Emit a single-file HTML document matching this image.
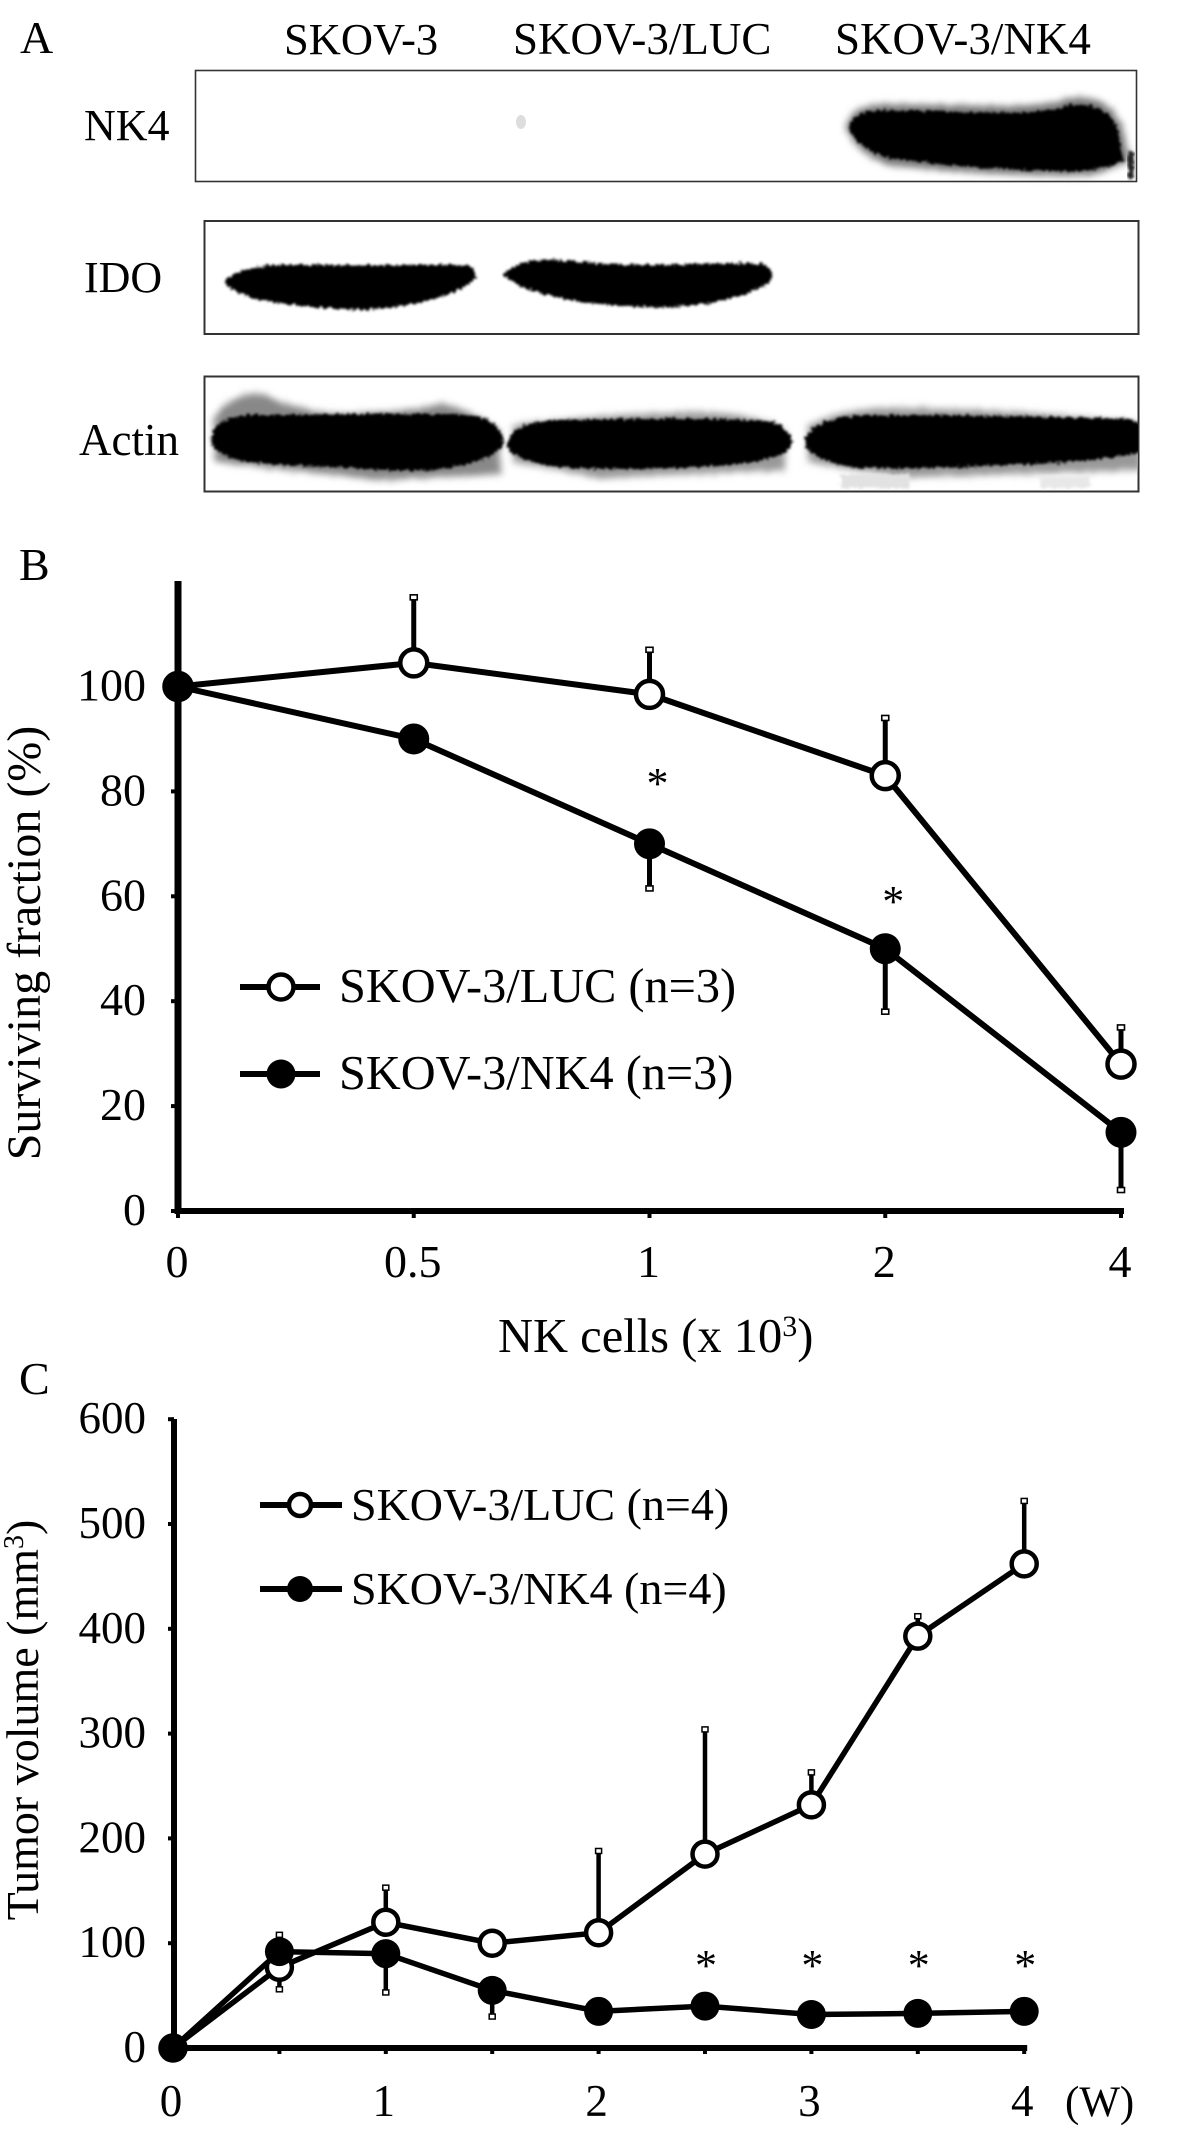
<!DOCTYPE html>
<html lang="en">
<head>
<meta charset="utf-8">
<title>NK4 figure</title>
<style>
html,body{margin:0;padding:0;background:#fff;}
svg{display:block;}
text{font-family:"Liberation Serif",serif;fill:#000;}
</style>
</head>
<body>
<svg id="fig" xmlns="http://www.w3.org/2000/svg" width="1181" height="2133" viewBox="0 0 1181 2133">
<defs>
<filter id="b2" x="-10%" y="-40%" width="120%" height="180%">
<feTurbulence type="fractalNoise" baseFrequency="0.3" numOctaves="2" seed="4" result="n"/>
<feDisplacementMap in="SourceGraphic" in2="n" scale="7" xChannelSelector="R" yChannelSelector="G"/>
<feGaussianBlur stdDeviation="1.4"/>
</filter>
<filter id="b5" x="-15%" y="-60%" width="130%" height="220%">
<feTurbulence type="fractalNoise" baseFrequency="0.35" numOctaves="2" seed="9" result="n"/>
<feDisplacementMap in="SourceGraphic" in2="n" scale="12" xChannelSelector="R" yChannelSelector="G"/>
<feGaussianBlur stdDeviation="3.5"/>
</filter>
</defs>
<rect width="1181" height="2133" fill="#fff"/>

<g>
<text x="20" y="53" font-size="46">A</text>
<text x="284" y="54" font-size="44.5">SKOV-3</text>
<text x="513" y="54" font-size="45">SKOV-3/LUC</text>
<text x="835" y="54" font-size="45">SKOV-3/NK4</text>
<text x="84" y="140" font-size="44">NK4</text>
<text x="84" y="292" font-size="44">IDO</text>
<text x="79" y="455" font-size="45">Actin</text>

<g>
<rect x="195.5" y="70.5" width="941" height="111" fill="#fff" stroke="#333" stroke-width="1.6"/>
<ellipse cx="521" cy="122" rx="5" ry="7" fill="#ddd"/>
<path d="M846,128 Q850,106 880,104 L1000,106 Q1050,106 1070,98 Q1108,94 1122,125 L1130,160 Q1100,178 1060,176 Q980,174 940,170 L890,166 Q856,154 846,128 Z" fill="#777" filter="url(#b5)"/>
<path d="M850,128 Q854,112 880,111 L1000,114 Q1050,114 1070,106 Q1104,103 1116,127 L1122,160 Q1100,172 1060,170 Q980,168 940,163 L890,157 Q860,150 850,128 Z" fill="#000" stroke="#000" stroke-width="2" filter="url(#b2)"/>
<rect x="1128" y="152" width="6" height="26" fill="#222" filter="url(#b2)"/>
</g>

<g>
<rect x="204.5" y="221" width="934" height="113" fill="#fff" stroke="#333" stroke-width="2"/>
<path d="M225,281 Q250,263 300,266 L465,266 Q476,267 474,278 Q450,302 365,309 Q300,307 260,299 Q228,290 225,281 Z" fill="#000" stroke="#000" stroke-width="2" filter="url(#b2)"/>
<path d="M505,275 Q520,258 560,261 Q620,268 700,265 L760,264 Q773,268 771,280 Q740,302 670,306 Q600,306 560,297 Q515,287 505,275 Z" fill="#000" stroke="#000" stroke-width="2" filter="url(#b2)"/>
</g>

<g>
<rect x="204.5" y="376.5" width="934" height="115" fill="#fff" stroke="#333" stroke-width="2"/>
<clipPath id="actinClip"><rect x="205" y="378" width="933" height="113"/></clipPath>
<g clip-path="url(#actinClip)">
<path d="M214,420 Q230,390 265,394 Q285,408 340,414 Q420,412 440,403 Q470,410 500,430 L500,474 L380,480 L215,462 Z" fill="#888" filter="url(#b5)"/>
<path d="M513,425 Q600,414 700,412 Q760,414 785,430 L785,470 L600,478 L513,462 Z" fill="#999" filter="url(#b5)"/>
<path d="M808,425 Q850,406 900,408 Q1000,408 1142,423 L1142,470 L900,478 L808,462 Z" fill="#999" filter="url(#b5)"/>
<path d="M212,440 Q214,418 250,416 Q400,414 470,416 Q499,420 503,442 Q498,460 440,468 Q400,472 350,466 Q270,466 235,458 Q214,452 212,440 Z" fill="#000" stroke="#000" stroke-width="2" filter="url(#b2)"/>
<path d="M508,445 Q512,422 560,421 Q700,418 770,422 Q791,430 791,444 Q785,462 700,466 Q620,470 560,466 Q512,460 508,445 Z" fill="#000" stroke="#000" stroke-width="2" filter="url(#b2)"/>
<path d="M805,442 Q812,420 860,416 Q1000,416 1130,420 L1145,428 L1145,450 Q1100,462 1000,464 Q900,470 850,466 Q810,458 805,442 Z" fill="#000" stroke="#000" stroke-width="2" filter="url(#b2)"/>
<rect x="840" y="474" width="70" height="14" fill="#e2e2e2" filter="url(#b2)"/>
<rect x="1040" y="476" width="50" height="12" fill="#e8e8e8" filter="url(#b2)"/>
</g>
</g>
</g>

<g id="panelB"></g>
<g id="panelC"></g>
</svg>

<script>
// Panel B data
const bCategories = ["0", "0.5", "1", "2", "4"];
const bYTicks = [0, 20, 40, 60, 80, 100];
const bLuc = [100, 104.5, 98.5, 83, 28];
const bNk4 = [100, 90, 70, 50, 15];
const bLucErrEnd = [null, 117, 107, 94, 35];
const bNk4ErrEnd = [null, null, 61.5, 38, 4];
const bStarIndex = [2, 3];
const bStarValue = [82, 59.5];

// Panel C data
const cWeeks = [0, 0.5, 1, 1.5, 2, 2.5, 3, 3.5, 4];
const cXLabels = [0, 1, 2, 3, 4];
const cYTicks = [0, 100, 200, 300, 400, 500, 600];
const cLuc = [0, 77, 120, 100, 110, 185, 232, 393, 462];
const cNk4 = [0, 92, 90, 55, 35, 40, 32, 33, 35];
const cLucErrEnd = [null, 56, 153, null, 188, 304, 263, 412, 522];
const cNk4ErrEnd = [null, 108, 53, 30, null, null, null, null, null];
const cStarWeeks = [2.5, 3, 3.5, 4];
const cStarValue = [80, 80, 80, 80];

const NS = 'http://www.w3.org/2000/svg';
function mk(tag, attrs, parent, txt) {
  const e = document.createElementNS(NS, tag);
  for (const k in attrs) e.setAttribute(k, attrs[k]);
  if (txt !== undefined) e.textContent = txt;
  parent.appendChild(e);
  return e;
}

/* ---------- Panel B ---------- */
const gB = document.getElementById('panelB');
const bx = i => 178 + i * 235.75;
const by = v => 1211 - v * 5.245;

let lb = mk('text', {x: 19, y: 580, 'font-size': 46}, gB, 'B');



let ax = mk('line', {x1: 178, y1: 581, x2: 178, y2: 1214, stroke: '#000', 'stroke-width': 7}, gB);


ax = mk('line', {x1: 175, y1: 1211, x2: bx(4) + 3, y2: 1211, stroke: '#000', 'stroke-width': 6}, gB);



bYTicks.forEach(v => {
  const t = mk('line', {x1: 171, y1: by(v), x2: 178, y2: by(v), stroke: '#000', 'stroke-width': 4}, gB);
  
  
  const l = mk('text', {x: 146, y: by(v) + 14, 'font-size': 46, 'text-anchor': 'end'}, gB, String(v));
  
  
});
bCategories.forEach((c, i) => {
  const t = mk('line', {x1: bx(i), y1: 1211, x2: bx(i), y2: 1218, stroke: '#000', 'stroke-width': 4}, gB);
  
  
  const l = mk('text', {x: bx(i) - 1, y: 1277, 'font-size': 46, 'text-anchor': 'middle'}, gB, c);
  
  
});

let xt = mk('text', {x: 498, y: 1352, 'font-size': 48.5}, gB);


mk('tspan', {}, xt, 'NK cells (x 10');
mk('tspan', {dy: -16, 'font-size': 30}, xt, '3');
mk('tspan', {dy: 16}, xt, ')');

let yt = mk('text', {x: 0, y: 0, 'font-size': 48, 'text-anchor': 'middle', transform: 'translate(40 943) rotate(-90)'}, gB, 'Surviving fraction (%)');



function drawB(vals, errs, filled, name) {
  errs.forEach((e, i) => {
    if (e === null) return;
    const l = mk('line', {x1: bx(i), y1: by(vals[i]), x2: bx(i), y2: by(e), stroke: '#000', 'stroke-width': 5}, gB);
    
    
    const c = mk('rect', {x: bx(i) - 3.5, y: by(e) - 2.5, width: 7, height: 5, fill: '#fff', stroke: '#000', 'stroke-width': 1.6}, gB);
    
    
  });
  const p = mk('polyline', {points: vals.map((v, i) => bx(i) + ',' + by(v)).join(' '), fill: 'none', stroke: '#000', 'stroke-width': 6}, gB);
  
  
  vals.forEach((v, i) => {
    const m = mk('circle', {cx: bx(i), cy: by(v), r: filled ? 15.5 : 13.5, fill: filled ? '#000' : '#fff', stroke: '#000', 'stroke-width': filled ? 0 : 4.5}, gB);
    
    
  });
}
drawB(bLuc, bLucErrEnd, false, 'b-skov3-luc');
drawB(bNk4, bNk4ErrEnd, true, 'b-skov3-nk4');

bStarIndex.forEach((idx, k) => {
  const s = mk('text', {x: bx(idx) + 8, y: by(bStarValue[k]) + 17, 'font-size': 44, 'text-anchor': 'middle'}, gB, '*');
  
  
});

function legendRow(g, x1, x2, cx, y, r, sw, filled, tx, fs, label, name) {
  const row = mk('g', {}, g);
  
  
  const l = mk('line', {x1: x1, y1: y, x2: x2, y2: y, stroke: '#000', 'stroke-width': sw}, row);
  
  
  const c = mk('circle', {cx: cx, cy: y, r: filled ? r + 2 : r, fill: filled ? '#000' : '#fff', stroke: '#000', 'stroke-width': filled ? 0 : 4.5}, row);
  
  
  const t = mk('text', {x: tx, y: y + 15, 'font-size': fs}, row, label);
  
  
}
legendRow(gB, 240, 320, 281, 987, 12.5, 6, false, 339, 48.3, 'SKOV-3/LUC (n=3)', 'b-legend-luc');
legendRow(gB, 240, 320, 281, 1074, 12.5, 6, true, 339, 48.3, 'SKOV-3/NK4 (n=3)', 'b-legend-nk4');

/* ---------- Panel C ---------- */
const gC = document.getElementById('panelC');
const cx = w => 173 + w * 212.8;
const cy = v => 2048 - v * 1.048;

lb = mk('text', {x: 19, y: 1394, 'font-size': 46}, gC, 'C');



ax = mk('line', {x1: 174, y1: 1419, x2: 174, y2: 2050, stroke: '#000', 'stroke-width': 6}, gC);


ax = mk('line', {x1: 171, y1: 2048, x2: cx(4) + 3, y2: 2048, stroke: '#000', 'stroke-width': 6}, gC);



cYTicks.forEach(v => {
  const t = mk('line', {x1: 168, y1: cy(v), x2: 174, y2: cy(v), stroke: '#000', 'stroke-width': 4}, gC);
  
  
  const l = mk('text', {x: 146, y: cy(v) + 14, 'font-size': 45, 'text-anchor': 'end'}, gC, String(v));
  
  
});
cWeeks.forEach(w => {
  const t = mk('line', {x1: cx(w), y1: 2048, x2: cx(w), y2: 2054, stroke: '#000', 'stroke-width': 4}, gC);
  
  
});
cXLabels.forEach(w => {
  const l = mk('text', {x: cx(w) - 2, y: 2116, 'font-size': 45, 'text-anchor': 'middle'}, gC, String(w));
  
  
});
let wl = mk('text', {x: 1065, y: 2116, 'font-size': 43}, gC, '(W)');



yt = mk('text', {x: 0, y: 0, 'font-size': 46, 'text-anchor': 'middle', transform: 'translate(38 1720) rotate(-90)'}, gC);


mk('tspan', {}, yt, 'Tumor volume (mm');
mk('tspan', {dy: -15, 'font-size': 28}, yt, '3');
mk('tspan', {dy: 15}, yt, ')');

function drawC(vals, errs, filled, name) {
  errs.forEach((e, i) => {
    if (e === null) return;
    const l = mk('line', {x1: cx(cWeeks[i]), y1: cy(vals[i]), x2: cx(cWeeks[i]), y2: cy(e), stroke: '#000', 'stroke-width': 4.5}, gC);
    
    
    const c = mk('rect', {x: cx(cWeeks[i]) - 3, y: cy(e) - 2.5, width: 6, height: 5, fill: '#fff', stroke: '#000', 'stroke-width': 1.5}, gC);
    
    
  });
  const p = mk('polyline', {points: vals.map((v, i) => cx(cWeeks[i]) + ',' + cy(v)).join(' '), fill: 'none', stroke: '#000', 'stroke-width': 5.5}, gC);
  
  
  vals.forEach((v, i) => {
    const m = mk('circle', {cx: cx(cWeeks[i]), cy: cy(v), r: filled ? 14.5 : 12.5, fill: filled ? '#000' : '#fff', stroke: '#000', 'stroke-width': filled ? 0 : 4.5}, gC);
    
    
  });
}
drawC(cLuc, cLucErrEnd, false, 'c-skov3-luc');
drawC(cNk4, cNk4ErrEnd, true, 'c-skov3-nk4');

cStarWeeks.forEach((w, k) => {
  const s = mk('text', {x: cx(w) + 1, y: cy(cStarValue[k]) + 16, 'font-size': 44, 'text-anchor': 'middle'}, gC, '*');
  
  
});

legendRow(gC, 260, 342, 300, 1505, 11, 6, false, 351, 46, 'SKOV-3/LUC (n=4)', 'c-legend-luc');
legendRow(gC, 260, 342, 300, 1589, 11, 6, true, 351, 46, 'SKOV-3/NK4 (n=4)', 'c-legend-nk4');
</script>
</body>
</html>
